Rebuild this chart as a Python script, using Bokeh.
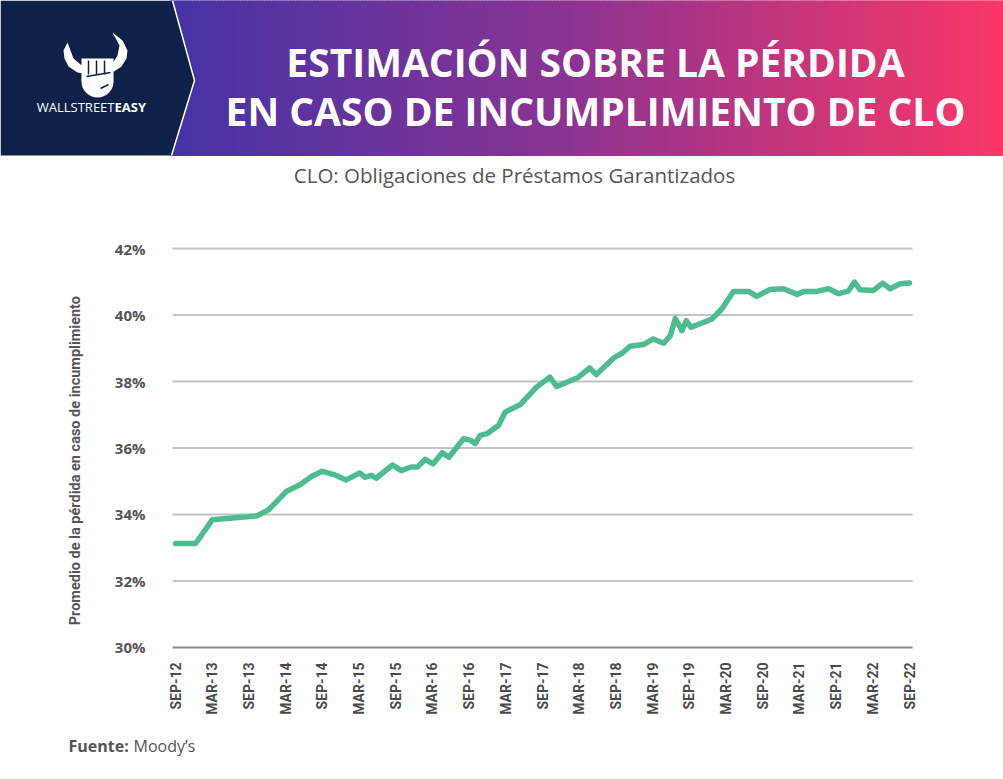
import numpy as np
from bokeh.plotting import figure
from bokeh.layouts import column
from bokeh.models import Range1d, FixedTicker
from bokeh.core.properties import value
from bokeh.embed import file_html
from bokeh.resources import INLINE

# ---------------- data ----------------
# months since Sep-2012
months = [0, 3.3, 6, 13.3, 15.2, 18.1, 20.4, 22.3, 24, 25.9, 27.9, 30.1, 31, 32, 32.8,
          35.5, 36.9, 38.5, 39.6, 40.8, 42.1, 43.6, 44.7, 47.1, 48.3, 49, 49.8, 50.9,
          52.8, 53.9, 56.4, 59, 61.2, 62.3, 64, 65.9, 67.7, 68.8, 71.6, 73, 74.3, 76.5,
          78.1, 79.8, 80.9, 81.7, 82.8, 83.5, 84.3, 87.7, 89.3, 91.2, 93.7, 95, 97.2,
          99.4, 101.6, 102.7, 104.8, 106.8, 108.4, 110, 111, 111.9, 114.1, 115.6, 116.8,
          118.5, 120]
lgd = [33.13, 33.13, 33.84, 33.96, 34.14, 34.69, 34.9, 35.15, 35.3, 35.2, 35.04, 35.25,
       35.12, 35.18, 35.09, 35.49, 35.32, 35.43, 35.43, 35.66, 35.52, 35.86, 35.72, 36.28,
       36.23, 36.13, 36.38, 36.43, 36.68, 37.08, 37.31, 37.83, 38.13, 37.85, 37.98, 38.13,
       38.41, 38.21, 38.7, 38.85, 39.06, 39.11, 39.28, 39.15, 39.38, 39.89, 39.53, 39.83,
       39.63, 39.88, 40.18, 40.71, 40.71, 40.56, 40.77, 40.79, 40.62, 40.71, 40.71, 40.79,
       40.64, 40.72, 40.99, 40.76, 40.74, 40.96, 40.79, 40.94, 40.96]
tick_months = list(range(0, 121, 6))
tick_labels = ["SEP-12", "MAR-13", "SEP-13", "MAR-14", "SEP-14", "MAR-15", "SEP-15",
               "MAR-16", "SEP-16", "MAR-17", "SEP-17", "MAR-18", "SEP-18", "MAR-19",
               "SEP-19", "MAR-20", "SEP-20", "MAR-21", "SEP-21", "MAR-22", "SEP-22"]
y_ticks = [30, 32, 34, 36, 38, 40, 42]
y_tick_labels = ["30%", "32%", "34%", "36%", "38%", "40%", "42%"]

title_lines = ["ESTIMACIÓN SOBRE LA PÉRDIDA", "EN CASO DE INCUMPLIMIENTO DE CLO"]
subtitle = "CLO: Obligaciones de Préstamos Garantizados"
y_title = "Promedio de la pérdida en caso de incumplimiento"
source_bold = "Fuente:"
source_text = "Moody’s"

W = 1003
NAVY = "#0e2249"
GREY = "#555555"

# ---------------- header ----------------
hdr = figure(width=W, height=195, x_range=Range1d(0, W), y_range=Range1d(195, 0),
             output_backend="svg", toolbar_location=None, min_border=0,
             x_axis_location=None, y_axis_location=None, outline_line_color=None)
hdr.grid.visible = False
hdr.background_fill_color = "white"
hdr.border_fill_color = "white"


def lerp(c1, c2, t):
    a = [int(c1[i:i + 2], 16) for i in (1, 3, 5)]
    b = [int(c2[i:i + 2], 16) for i in (1, 3, 5)]
    return "#%02x%02x%02x" % tuple(int(round(a[k] + (b[k] - a[k]) * t)) for k in range(3))


stops = [(170, "#4533a6"), (560, "#8a3393"), (1003, "#fb3767")]
xs = np.arange(170, 1003, 3)
cols = []
for x0 in xs:
    for (xa, ca), (xb, cb) in zip(stops[:-1], stops[1:]):
        if xa <= x0 <= xb:
            cols.append(lerp(ca, cb, (x0 - xa) / (xb - xa)))
            break
    else:
        cols.append(stops[-1][1])
hdr.quad(left=xs, right=xs + 3, top=0, bottom=155, fill_color=cols, line_color=cols,
         line_width=1)
# navy chevron
hdr.patch([0, 172, 194, 171, 0], [0, 0, 80, 155, 155], fill_color=NAVY, line_color=None)
hdr.line([172, 194, 171], [0, 80, 155], line_color="white", line_width=1.5)

# logo (simplified bull horns + fist)
hdr.patch([67, 63, 64, 68, 77, 88, 88, 80, 73, 70],
          [42, 50, 58, 66, 72, 74, 67, 64, 58, 50], fill_color="white", line_color=None)
hdr.patch([112, 122, 127, 126, 121, 112, 104, 104, 112, 117, 119],
          [32, 40, 50, 58, 66, 72, 74, 67, 63, 55, 45], fill_color="white", line_color=None)
hdr.scatter([97], [81], size=32, marker="circle", fill_color="white", line_color=None)
hdr.quad(left=[81], right=[113], top=[58], bottom=[80], fill_color="white",
         line_color=None)
for fx in (88, 96, 104):
    hdr.line([fx, fx], [60, 74], line_color=NAVY, line_width=1.5)
hdr.line([86, 110], [76, 72], line_color=NAVY, line_width=1.5)
hdr.line([100, 108], [88, 84], line_color=NAVY, line_width=1.5)
hdr.text(x=[114], y=[106], text=["WALLSTREET"], text_color="white", text_font_size="13px",
         text_align="right", text_baseline="middle", text_font=value("Open Sans"))
hdr.text(x=[114], y=[106], text=["EASY"], text_color="white", text_font_size="13px",
         text_align="left", text_baseline="middle", text_font=value("Open Sans"),
         text_font_style="bold")

hdr.text(x=[595, 595], y=[61, 110], text=title_lines, text_color="white",
         text_font_size="39px", text_font_style="bold", text_align="center",
         text_baseline="middle", text_font=value("Open Sans"))
hdr.text(x=[514], y=[174], text=[subtitle], text_color=GREY,
         text_font_size="20.5px", text_align="center", text_baseline="middle",
         text_font=value("Open Sans"))

# ---------------- chart ----------------
# frame spans whole width; ranges chosen so that Sep-12 -> px 175, Sep-22 -> px 909,
# 42% -> px 248 and 30% -> px 647 of the page
p = figure(width=W, height=530, x_range=Range1d(-28.61, 135.36),
           y_range=Range1d(29.609, 43.594),
           output_backend="svg", toolbar_location=None,
           min_border_left=0, min_border_right=0, min_border_top=0,
           min_border_bottom=65, outline_line_color=None, y_axis_location=None)
p.background_fill_color = "white"
p.border_fill_color = "white"
p.grid.visible = False

# horizontal grid lines
p.segment(x0=-0.5, x1=120.5, y0=y_ticks[1:], y1=y_ticks[1:], line_color="#c4c4c4",
          line_width=2)
# baseline
p.segment(x0=-0.5, x1=120.5, y0=[30], y1=[30], line_color="#8a8a8a", line_width=2)

# y tick labels and title
p.text(x=-4.9, y=y_ticks, text=y_tick_labels, text_align="right", text_baseline="middle",
       text_font=value("Open Sans"), text_font_style="bold", text_font_size="15px",
       text_color=GREY)
p.text(x=[-16.35], y=[35.62], text=[y_title], angle=np.pi / 2, text_align="center",
       text_baseline="middle", text_font=value("Roboto"), text_font_style="bold",
       text_font_size="14.5px", text_color=GREY)

p.line(months, lgd, line_color="#4dbd8f", line_width=5.5, line_join="round",
       line_cap="round")

xa = p.xaxis[0]
xa.ticker = FixedTicker(ticks=tick_months)
xa.major_label_overrides = {m: l for m, l in zip(tick_months, tick_labels)}
xa.major_label_orientation = np.pi / 2
xa.axis_line_color = None
xa.major_tick_line_color = None
xa.minor_tick_line_color = None
xa.major_tick_out = 0
xa.major_tick_in = 0
xa.major_label_standoff = 2
xa.major_label_text_font = "Roboto"
xa.major_label_text_font_style = "bold"
xa.major_label_text_font_size = "14px"
xa.major_label_text_color = "#4a4a4a"

# ---------------- footer ----------------
ftr = figure(width=W, height=54, x_range=Range1d(0, W), y_range=Range1d(779, 725),
             output_backend="svg", toolbar_location=None, min_border=0,
             x_axis_location=None, y_axis_location=None, outline_line_color=None)
ftr.grid.visible = False
ftr.background_fill_color = "white"
ftr.border_fill_color = "white"
ftr.text(x=[68], y=[745], text=[source_bold], text_font=value("Open Sans"),
         text_font_style="bold", text_font_size="16px", text_color=GREY,
         text_baseline="middle")
ftr.text(x=[133], y=[745], text=[source_text], text_font=value("Open Sans"),
         text_font_size="16px", text_color=GREY, text_baseline="middle")

layout = column(hdr, p, ftr, spacing=0)
open("out.html", "w").write(file_html(layout, INLINE))
